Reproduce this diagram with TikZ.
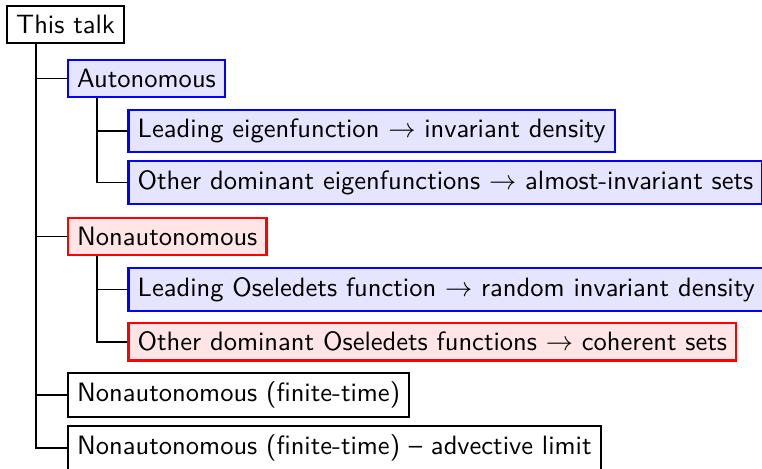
\documentclass[tikz,border=0pt]{standalone}
\usepackage{amsmath}
\usepackage{fontspec}
\usepackage{tikz}

\tikzset{
    plainbox/.style={draw, thick, font=\sffamily\fontsize{9.75}{12}\selectfont, anchor=west},
    bluebox/.style={plainbox, draw=blue, fill=blue!10},
    redbox/.style={plainbox, draw=red, fill=red!10},
}

\begin{document}
\begin{tikzpicture}
    \useasboundingbox (0,0) rectangle (9.845,-6.047);
    \node[plainbox] (talk) at (0.078,-0.317) {This talk};
    \node[bluebox] (autonomous) at (0.866,-1.014) {Autonomous};
    \node[bluebox] (leadeig) at (1.647,-1.690) {Leading eigenfunction \(\rightarrow\) invariant density};
    \node[bluebox] (othereig) at (1.647,-2.358) {Other dominant eigenfunctions \(\rightarrow\) almost-invariant sets};
    \node[redbox] (nonautonomous) at (0.866,-3.056) {Nonautonomous};
    \node[bluebox] (leadosel) at (1.647,-3.740) {Leading Oseledets function \(\rightarrow\) random invariant density};
    \node[redbox] (otherosel) at (1.647,-4.415) {Other dominant Oseledets functions \(\rightarrow\) coherent sets};
    \node[plainbox] (finite) at (0.866,-5.103) {Nonautonomous (finite-time)};
    \node[plainbox] (advective) at (0.866,-5.792) {Nonautonomous (finite-time) -- advective limit};
    % branches hang 0.39 right of each parent's left edge
    \foreach \child in {autonomous,nonautonomous,finite,advective}
        \draw[semithick] ([xshift=0.388cm]talk.south west) |- (\child.west);
    \foreach \child in {leadeig,othereig}
        \draw[semithick] ([xshift=0.388cm]autonomous.south west) |- (\child.west);
    \foreach \child in {leadosel,otherosel}
        \draw[semithick] ([xshift=0.388cm]nonautonomous.south west) |- (\child.west);
\end{tikzpicture}
\end{document}
